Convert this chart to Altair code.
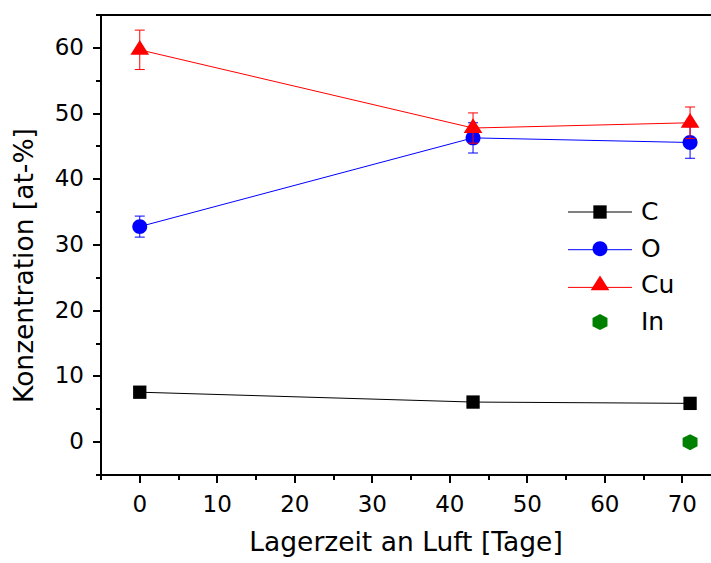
import altair as alt
import pandas as pd

# ---- data ----
days = [0, 43, 71]
c_vals = [7.6, 6.1, 5.9]
c_err = [0.7, 0.7, 0.6]
o_vals = [32.8, 46.3, 45.6]
o_err = [1.6, 2.3, 2.4]
cu_vals = [59.7, 47.8, 48.6]
cu_err = [3.0, 2.3, 2.4]
in_days = [71]
in_vals = [0.0]

line_elements = ["C", "O", "Cu"]
all_elements = ["C", "O", "Cu", "In"]
x_major_ticks = [0, 10, 20, 30, 40, 50, 60, 70]
x_minor_ticks = [-5, 5, 15, 25, 35, 45, 55, 65]
y_major_ticks = [0, 10, 20, 30, 40, 50, 60]
y_minor_ticks = [-5, 5, 15, 25, 35, 45, 55, 65]

# ---- styles ----
colors = ["#000000", "#0000ff", "#ff0000", "#008000"]
shapes = [
    "M-0.74,-0.74L0.74,-0.74L0.74,0.74L-0.74,0.74Z",
    "M0.83,0A0.83,0.83,0,1,1,-0.83,0A0.83,0.83,0,1,1,0.83,0Z",
    "M0,-1.09L1.04,0.54L-1.04,0.54Z",
    "M0,-0.89L0.83,-0.45L0.83,0.45L0,0.89L-0.83,0.45L-0.83,-0.45Z",
]
FONT = "DejaVu Sans"

recs = []
for el, vals, errs in [("C", c_vals, c_err), ("O", o_vals, o_err), ("Cu", cu_vals, cu_err)]:
    for d, v, e in zip(days, vals, errs):
        recs.append({"element": el, "day": d, "value": v, "lo": v - e, "hi": v + e})
for d, v in zip(in_days, in_vals):
    recs.append({"element": "In", "day": d, "value": v, "lo": v, "hi": v})
df = pd.DataFrame(recs)
line_df = df[df["element"] != "In"]

x_scale = alt.Scale(domain=[-5, 73.7], nice=False, zero=False)
y_scale = alt.Scale(domain=[-5, 65], nice=False, zero=False)

common = dict(domainColor="black", domainWidth=2, tickColor="black", tickWidth=2,
              grid=False, translate=0, labelFont=FONT, labelColor="black",
              titleFont=FONT, titleColor="black", titleFontWeight="normal")

x_major = alt.Axis(orient="bottom", values=x_major_ticks, tickSize=8, labelFontSize=23,
                   labelPadding=11, title="Lagerzeit an Luft [Tage]", titleFontSize=26.5,
                   titleY=55, **common)
x_minor = alt.Axis(orient="bottom", values=x_minor_ticks, tickSize=5, labels=False,
                   domain=False, title=None, **common)
x_top = alt.Axis(orient="top", ticks=False, labels=False, domain=True, title=None, **common)
y_major = alt.Axis(orient="left", values=y_major_ticks, tickSize=8, labelFontSize=23,
                   labelPadding=9, title="Konzentration [at-%]", titleFontSize=26.5,
                   titleX=-61.7, titleY=250.5, **common)
y_minor = alt.Axis(orient="left", values=y_minor_ticks, tickSize=5, labels=False,
                   domain=False, title=None, **common)

stroke_legend = alt.Legend(orient="none", legendX=466.5, legendY=164.5, title=None,
                           symbolType="stroke", symbolSize=4096, symbolStrokeWidth=1,
                           labelFontSize=1, labelExpr="''", labelOpacity=0,
                           rowPadding=2.7, padding=0, labelOffset=0)
point_legend = alt.Legend(orient="none", legendX=486.5, legendY=184.5, title=None,
                          symbolSize=324, symbolStrokeWidth=0, symbolOpacity=1,
                          labelFontSize=25, labelFont=FONT, labelColor="black",
                          rowPadding=10.7, padding=0, labelOffset=28.5)

fill_enc = alt.Fill("element:N", scale=alt.Scale(domain=all_elements, range=colors),
                    legend=point_legend)
shape_enc = alt.Shape("element:N", scale=alt.Scale(domain=all_elements, range=shapes),
                      legend=point_legend)

lines = alt.Chart(line_df).mark_line(strokeWidth=1).encode(
    x=alt.X("day:Q", scale=x_scale, axis=x_major),
    y=alt.Y("value:Q", scale=y_scale, axis=y_major),
    stroke=alt.Stroke("element:N", scale=alt.Scale(domain=line_elements, range=colors[:3]),
                      legend=stroke_legend),
)

layers = [lines]
for i, el in enumerate(line_elements):
    sub = alt.Chart(line_df).transform_filter(alt.datum.element == el)
    rule_x = x_minor if i == 0 else None
    rule_y = y_minor if i == 0 else None
    cap_x = x_top if i == 0 else None
    rules = sub.mark_rule(strokeWidth=1, color=colors[i]).encode(
        x=alt.X("day:Q", scale=x_scale, axis=rule_x),
        y=alt.Y("lo:Q", scale=y_scale, axis=rule_y),
        y2="hi:Q",
    )
    cap_lo = sub.mark_tick(orient="horizontal", size=10, thickness=1, color=colors[i],
                           opacity=1).encode(
        x=alt.X("day:Q", scale=x_scale, axis=cap_x),
        y=alt.Y("lo:Q", scale=y_scale, axis=None),
    )
    cap_hi = sub.mark_tick(orient="horizontal", size=10, thickness=1, color=colors[i],
                           opacity=1).encode(
        x=alt.X("day:Q", scale=x_scale, axis=None),
        y=alt.Y("hi:Q", scale=y_scale, axis=None),
    )
    pts = alt.Chart(df).transform_filter(alt.datum.element == el).mark_point(
        filled=True, size=324, opacity=1, strokeWidth=0).encode(
        x=alt.X("day:Q", scale=x_scale, axis=None),
        y=alt.Y("value:Q", scale=y_scale, axis=None),
        fill=fill_enc,
        shape=shape_enc,
    )
    layers += [rules, cap_lo, cap_hi, pts]

pts_in = alt.Chart(df).transform_filter(alt.datum.element == "In").mark_point(
    filled=True, size=324, opacity=1, strokeWidth=0).encode(
    x=alt.X("day:Q", scale=x_scale, axis=None),
    y=alt.Y("value:Q", scale=y_scale, axis=None),
    fill=fill_enc,
    shape=shape_enc,
)
layers.append(pts_in)

chart = alt.layer(*layers).resolve_axis(x="independent", y="independent").properties(
    width=610, height=460,
    autosize=alt.AutoSizeParams(type="none"),
    padding={"left": 101, "top": 15, "right": 0, "bottom": 88},
    background="white",
).configure_view(strokeWidth=0)

chart.save("out.html", embed_options={"renderer": "svg", "actions": False})
